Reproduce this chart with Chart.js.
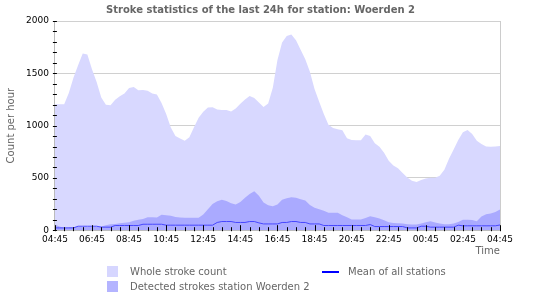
<!DOCTYPE html>
<html>
<head>
<meta charset="utf-8">
<script src="https://cdn.jsdelivr.net/npm/chart.js@4.4.0/dist/chart.umd.min.js"></script>
<style>
  body { margin: 0; background: #fff; }
  #wrap { position: relative; width: 550px; height: 300px; font-family: "DejaVu Sans", sans-serif; }
  .lg { position: absolute; font-size: 10px; color: #666; line-height: 12px; white-space: nowrap; }
  .box { position: absolute; width: 11px; height: 11px; }
  .ln { position: absolute; width: 17px; height: 2px; background: #0000ff; }
</style>
</head>
<body>
<div id="wrap">
  <canvas id="chart" width="550" height="300"></canvas>
  <div class="box" style="left:107px; top:266px; background:#d6d6ff;"></div>
  <div class="lg" style="left:130px; top:266px;">Whole stroke count</div>
  <div class="box" style="left:107px; top:281px; background:#b4b4ff;"></div>
  <div class="lg" style="left:130px; top:281px;">Detected strokes station Woerden 2</div>
  <div class="ln" style="left:322px; top:271px;"></div>
  <div class="lg" style="left:348px; top:266px;">Mean of all stations</div>
</div>
<script>
// Zeitachse (15 min)
const times = [
  '04:45','05:00','05:15','05:30','05:45','06:00','06:15','06:30','06:45','07:00','07:15','07:30',
  '07:45','08:00','08:15','08:30','08:45','09:00','09:15','09:30','09:45','10:00','10:15','10:30',
  '10:45','11:00','11:15','11:30','11:45','12:00','12:15','12:30','12:45','13:00','13:15','13:30',
  '13:45','14:00','14:15','14:30','14:45','15:00','15:15','15:30','15:45','16:00','16:15','16:30',
  '16:45','17:00','17:15','17:30','17:45','18:00','18:15','18:30','18:45','19:00','19:15','19:30',
  '19:45','20:00','20:15','20:30','20:45','21:00','21:15','21:30','21:45','22:00','22:15','22:30',
  '22:45','23:00','23:15','23:30','23:45','00:00','00:15','00:30','00:45','01:00','01:15','01:30',
  '01:45','02:00','02:15','02:30','02:45','03:00','03:15','03:30','03:45','04:00','04:15','04:30',
  '04:45'
];

const wholeCount = [
  1205,1205,1205,1312,1458,1577,1690,1680,1538,1418,1269,1200,1195,1248,1280,1308,1359,1368,1338,1340,
  1333,1308,1298,1217,1112,983,900,877,854,888,984,1075,1132,1173,1176,1154,1148,1148,1135,1163,
  1210,1250,1284,1264,1220,1178,1212,1362,1627,1795,1856,1870,1815,1725,1635,1516,1349,1227,1110,1007,
  978,966,955,879,863,859,860,916,901,831,797,740,665,618,592,546,504,473,460,480,
  494,501,501,520,579,682,772,862,937,958,920,856,824,800,797,799,804
];

const detected = [
  55,35,22,28,30,30,30,30,30,30,35,48,56,60,66,72,77,90,100,108,
  123,123,122,147,144,138,127,122,118,118,118,118,150,200,250,276,290,280,258,246,
  270,310,345,372,330,265,238,230,245,290,305,315,310,295,285,240,215,200,185,166,
  166,166,143,125,102,102,102,117,133,125,112,96,76,68,66,63,58,55,55,65,
  75,86,74,65,58,58,65,78,101,100,97,85,130,152,160,175,198
];

const meanAll = [
  22,22,22,22,22,38,38,38,38,38,29,29,29,45,45,45,45,45,45,57,
  57,57,57,57,48,48,48,48,48,48,48,48,48,48,48,74,83,83,83,74,
  74,74,83,83,70,60,60,60,60,74,74,83,83,74,74,60,60,60,45,45,
  45,45,45,45,45,45,45,45,54,35,35,35,35,35,35,35,22,22,22,38,
  38,29,29,29,29,29,29,48,42,42,42,42,42,42,42,42,50
];

const yTicks = [0, 500, 1000, 1500, 2000];

// petits traits des axes, dessinés à cheval sur le bord
const innerTicks = {
  id: 'innerTicks',
  afterDatasetsDraw(chart) {
    const ctx = chart.ctx;
    const x = chart.scales.x, y = chart.scales.y;
    ctx.save();
    ctx.strokeStyle = '#000';
    ctx.lineWidth = 1;
    ctx.beginPath();
    for (let v = 0; v <= 2000; v += 100) {
      const py = Math.round(y.getPixelForValue(v)) + 0.5;
      ctx.moveTo(x.left - 2, py);
      ctx.lineTo(x.left + 2, py);
    }
    for (let i = 0; i < times.length; i += 2) {
      const px = Math.round(x.getPixelForValue(i)) + 0.5;
      const len = i % 8 === 0 ? 5 : 3;
      ctx.moveTo(px, y.bottom + 1);
      ctx.lineTo(px, y.bottom - len);
    }
    ctx.stroke();
    ctx.restore();
  }
};

const ctx = document.getElementById('chart').getContext('2d');
new Chart(ctx, {
  type: 'line',
  data: {
    labels: times,
    datasets: [
      {
        label: 'Mean of all stations',
        data: meanAll,
        borderColor: '#4848ff',
        borderWidth: 1,
        pointRadius: 0,
        fill: false
      },
      {
        label: 'Detected strokes station Woerden 2',
        data: detected,
        borderWidth: 0,
        borderColor: 'rgba(0,0,0,0)',
        backgroundColor: '#aaaaff',
        pointRadius: 0,
        fill: 'origin'
      },
      {
        label: 'Whole stroke count',
        data: wholeCount,
        borderWidth: 0,
        borderColor: 'rgba(0,0,0,0)',
        backgroundColor: '#d8d8ff',
        pointRadius: 0,
        fill: 'origin'
      }
    ]
  },
  options: {
    responsive: false,
    animation: false,
    layout: { padding: { left: 5, right: 34, top: 0, bottom: 43 } },
    plugins: {
      legend: { display: false },
      tooltip: { enabled: false },
      title: {
        display: true,
        text: 'Stroke statistics of the last 24h for station: Woerden 2',
        color: '#666',
        font: { family: 'DejaVu Sans', size: 10, weight: 'bold' },
        padding: { top: 4, bottom: 5 }
      }
    },
    scales: {
      x: {
        grid: { display: false, drawTicks: false },
        border: { color: '#bbb' },
        ticks: {
          autoSkip: false,
          maxRotation: 0,
          padding: 4,
          color: '#000',
          font: { family: 'DejaVu Sans', size: 9 },
          callback: (v, i) => (i % 8 === 0 ? times[i] : null)
        },
        title: {
          display: true,
          text: 'Time',
          align: 'end',
          color: '#666',
          font: { family: 'DejaVu Sans', size: 10 },
          padding: { top: -4, bottom: 0 }
        }
      },
      y: {
        min: 0,
        max: 2000,
        z: 1,
        afterBuildTicks: (s) => { s.ticks = yTicks.map(v => ({ value: v })); },
        grid: { color: 'rgba(170,170,170,0.55)', drawTicks: false },
        border: { color: '#bbb' },
        ticks: {
          padding: 6,
          color: '#000',
          font: { family: 'DejaVu Sans', size: 9 },
          callback: (v) => String(v)
        },
        title: {
          display: true,
          text: 'Count per hour',
          color: '#666',
          font: { family: 'DejaVu Sans', size: 10 },
          padding: { top: 0, bottom: 3 }
        }
      },
      y2: {
        position: 'right',
        min: 0,
        max: 2000,
        grid: { drawOnChartArea: false, drawTicks: false },
        border: { color: '#ccc' },
        ticks: { display: false },
        afterFit: (s) => { s.width = 16; }
      }
    }
  },
  plugins: [innerTicks]
});
</script>
</body>
</html>
